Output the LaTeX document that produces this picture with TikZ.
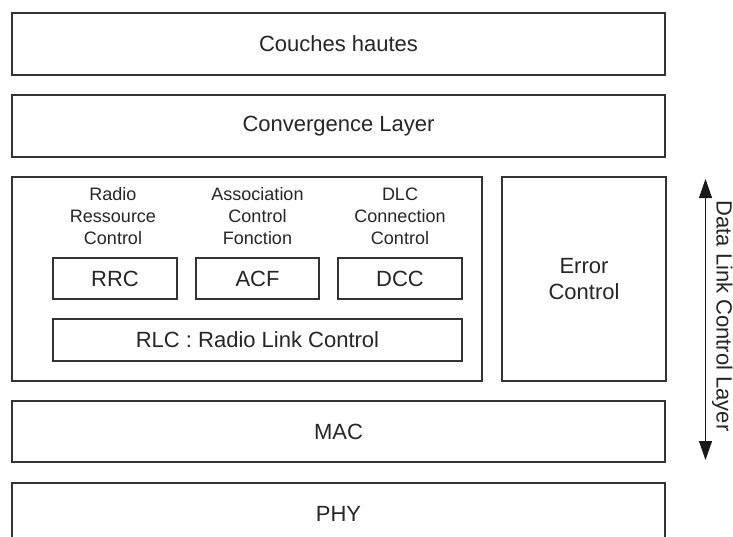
\documentclass[tikz,border=0pt]{standalone}
\usepackage{fontspec}
\setmainfont{Liberation Sans}
\usetikzlibrary{arrows.meta}
\begin{document}
\begin{tikzpicture}[x=1pt,y=-1pt,
  box/.style={draw=black!80, line width=1.3pt, inner sep=0pt, text=black!85,
              font=\fontsize{22}{26}\selectfont},
  lbl/.style={inner sep=0pt, align=center, text=black!85,
              font=\fontsize{18}{22}\selectfont},
  sidelbl/.style={inner sep=0pt, text=black!85, font=\fontsize{22}{26}\selectfont}
]
\useasboundingbox (0,0) rectangle (733,536);
\clip (0,0) rectangle (733,536);
\fill[white] (0,0) rectangle (733,536);
% layers
\node[box, minimum width=653pt, minimum height=62pt] (ch) at (338.5,44) {Couches hautes};
\node[box, minimum width=653pt, minimum height=62pt] (cl) at (338.5,126) {Convergence Layer};
\node[box, minimum width=470pt, minimum height=204pt] (dlc) at (247,279) {};
\node[box, minimum width=164pt, minimum height=204pt, align=center] (ec) at (584,279) {Error\\Control};
\node[box, minimum width=653pt, minimum height=61pt] (mac) at (338.5,431.5) {MAC};
\node[box, minimum width=653pt, minimum height=62pt] (phy) at (338.5,514) {PHY};
% inner blocks
\node[box, minimum width=124pt, minimum height=41pt] (rrc) at (115,278.5) {RRC};
\node[box, minimum width=123pt, minimum height=41pt] (acf) at (257.5,278.5) {ACF};
\node[box, minimum width=124pt, minimum height=41pt] (dcc) at (400,278.5) {DCC};
\node[box, minimum width=409pt, minimum height=42pt] (rlc) at (257.5,340) {RLC : Radio Link Control};
% labels
\node[lbl] (lrrc) at (113,216) {Radio\\Ressource\\Control};
\node[lbl] (lacf) at (257.5,216) {Association\\Control\\Fonction};
\node[lbl] (ldcc) at (400,216) {DLC\\Connection\\Control};
% side arrow
\coordinate (atop) at (705.5,179);
\coordinate (abot) at (705.5,460);
\draw[line width=1pt, black!90, {Triangle[width=13pt,length=19pt]}-{Triangle[width=13pt,length=19pt]}] (atop) -- (abot);
\node[sidelbl, rotate=-90, anchor=base] (side) at (716.5,316) {Data Link Control Layer};
\end{tikzpicture}
\end{document}
